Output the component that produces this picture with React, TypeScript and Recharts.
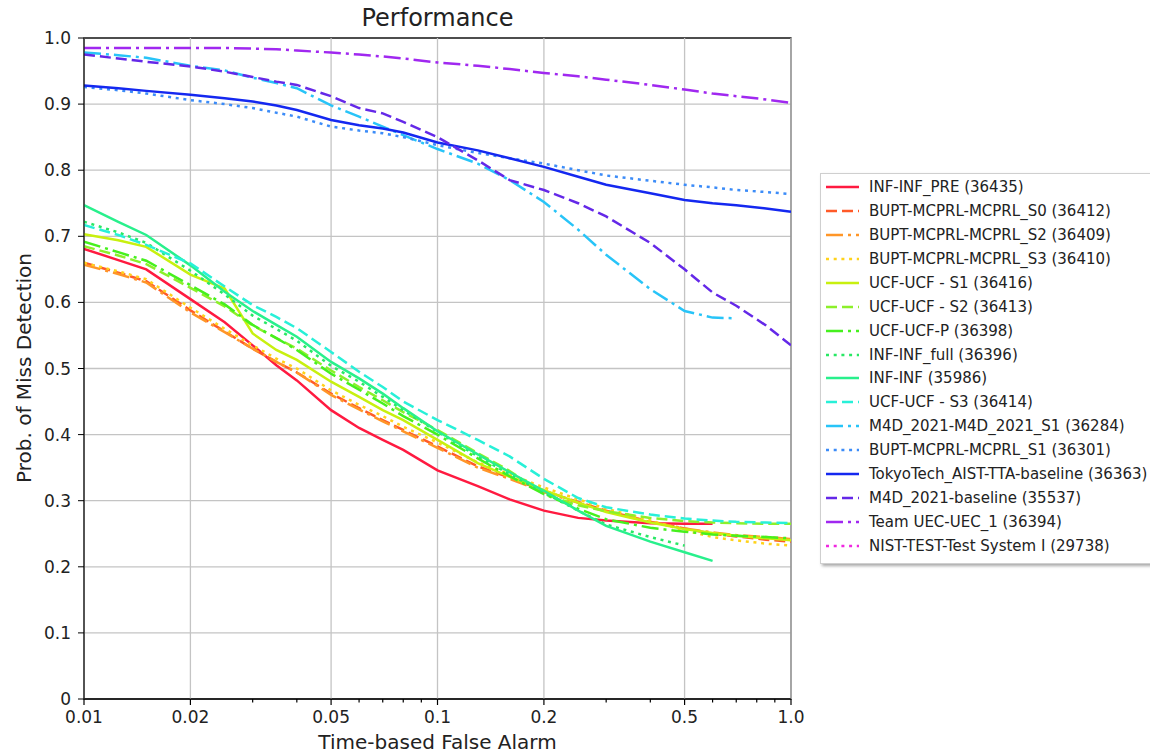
import { LineChart, Line, XAxis, YAxis, CartesianGrid, ReferenceArea, ReferenceLine } from "recharts";

const FONT = "'DejaVu Sans', Verdana, sans-serif";

// false alarm rate grid (x) shared by all curves
const FA = [0.01, 0.0125, 0.015, 0.02, 0.025, 0.03, 0.035, 0.04, 0.05, 0.06, 0.07, 0.08, 0.1, 0.13, 0.16, 0.2, 0.25, 0.3, 0.4, 0.5, 0.6, 0.7, 0.85, 1.0];

const X_MAJOR = [0.01, 0.02, 0.05, 0.1, 0.2, 0.5, 1.0];
const X_MINOR = [0.03, 0.04, 0.06, 0.07, 0.08, 0.09, 0.3, 0.4, 0.6, 0.7, 0.8, 0.9];
const Y_TICKS = [0, 0.1, 0.2, 0.3, 0.4, 0.5, 0.6, 0.7, 0.8, 0.9, 1.0];

// miss detection per system, null = curve ended
const infPre = [0.681, 0.664, 0.65, 0.605, 0.57, 0.535, 0.505, 0.482, 0.437, 0.41, 0.392, 0.377, 0.346, 0.322, 0.302, 0.285, 0.274, 0.27, 0.266, 0.265, 0.265, null, null, null];
const buptS0 = [0.66, 0.645, 0.632, 0.588, 0.556, 0.53, 0.51, 0.494, 0.462, 0.44, 0.422, 0.407, 0.382, 0.352, 0.335, 0.315, 0.298, 0.285, 0.268, 0.258, 0.25, 0.246, 0.241, 0.238];
const buptS2 = [0.657, 0.643, 0.63, 0.585, 0.555, 0.53, 0.51, 0.494, 0.46, 0.438, 0.42, 0.405, 0.38, 0.35, 0.333, 0.313, 0.297, 0.284, 0.268, 0.258, 0.252, 0.248, 0.245, 0.242];
const buptS3 = [0.66, 0.647, 0.635, 0.592, 0.56, 0.535, 0.515, 0.5, 0.467, 0.445, 0.428, 0.412, 0.388, 0.358, 0.34, 0.32, 0.302, 0.288, 0.27, 0.255, 0.245, 0.24, 0.235, 0.232];
const ucfS1 = [0.703, 0.694, 0.684, 0.642, 0.621, 0.553, 0.528, 0.513, 0.48, 0.457, 0.437, 0.422, 0.392, 0.357, 0.336, 0.316, 0.297, 0.283, 0.267, 0.257, 0.251, 0.247, 0.243, 0.24];
const ucfS2 = [0.685, 0.671, 0.658, 0.622, 0.594, 0.565, 0.546, 0.53, 0.497, 0.472, 0.452, 0.434, 0.407, 0.372, 0.345, 0.31, 0.293, 0.284, 0.274, 0.269, 0.267, 0.266, 0.265, 0.265];
const ucfP = [0.692, 0.676, 0.663, 0.626, 0.597, 0.566, 0.546, 0.528, 0.492, 0.468, 0.447, 0.428, 0.4, 0.364, 0.337, 0.31, 0.288, 0.272, 0.259, 0.253, 0.249, 0.247, 0.245, 0.243];
const infFull = [0.722, 0.706, 0.69, 0.648, 0.612, 0.58, 0.56, 0.542, 0.504, 0.48, 0.457, 0.437, 0.404, 0.367, 0.34, 0.312, 0.285, 0.264, 0.245, 0.232, null, null, null, null];
const infInf = [0.747, 0.722, 0.702, 0.656, 0.616, 0.587, 0.566, 0.548, 0.51, 0.485, 0.462, 0.44, 0.405, 0.37, 0.343, 0.315, 0.285, 0.262, 0.238, 0.222, 0.209, null, null, null];
const ucfS3 = [0.717, 0.702, 0.687, 0.659, 0.624, 0.596, 0.578, 0.561, 0.525, 0.495, 0.472, 0.45, 0.422, 0.392, 0.367, 0.333, 0.304, 0.29, 0.279, 0.273, 0.27, 0.268, 0.267, 0.266];
const m4dS1 = [0.978, 0.974, 0.97, 0.958, 0.951, 0.94, 0.932, 0.924, 0.898, 0.881, 0.866, 0.853, 0.832, 0.81, 0.785, 0.752, 0.71, 0.672, 0.62, 0.587, 0.577, 0.576, null, null];
const buptS1 = [0.926, 0.921, 0.916, 0.906, 0.9, 0.894, 0.887, 0.881, 0.866, 0.86, 0.856, 0.85, 0.838, 0.826, 0.818, 0.81, 0.8, 0.792, 0.784, 0.778, 0.774, 0.77, 0.767, 0.764];
const tokyo = [0.928, 0.924, 0.92, 0.914, 0.909, 0.904, 0.898, 0.891, 0.876, 0.868, 0.863, 0.857, 0.842, 0.83, 0.818, 0.805, 0.79, 0.778, 0.765, 0.755, 0.75, 0.747, 0.742, 0.737];
const m4dBase = [0.975, 0.969, 0.964, 0.957, 0.949, 0.941, 0.934, 0.929, 0.912, 0.894, 0.886, 0.873, 0.85, 0.815, 0.785, 0.77, 0.75, 0.73, 0.69, 0.65, 0.615, 0.595, 0.565, 0.535];
const uec = [0.985, 0.985, 0.985, 0.985, 0.985, 0.984, 0.983, 0.981, 0.978, 0.975, 0.972, 0.969, 0.963, 0.958, 0.953, 0.947, 0.942, 0.937, 0.929, 0.922, 0.916, 0.912, 0.907, 0.902];
const nist = FA.map(() => null); // no points inside the plotted range

const NAMES = [
  "INF-INF_PRE (36435)",
  "BUPT-MCPRL-MCPRL_S0 (36412)",
  "BUPT-MCPRL-MCPRL_S2 (36409)",
  "BUPT-MCPRL-MCPRL_S3 (36410)",
  "UCF-UCF - S1 (36416)",
  "UCF-UCF - S2 (36413)",
  "UCF-UCF-P (36398)",
  "INF-INF_full (36396)",
  "INF-INF (35986)",
  "UCF-UCF - S3 (36414)",
  "M4D_2021-M4D_2021_S1 (36284)",
  "BUPT-MCPRL-MCPRL_S1 (36301)",
  "TokyoTech_AIST-TTA-baseline (36363)",
  "M4D_2021-baseline (35537)",
  "Team UEC-UEC_1 (36394)",
  "NIST-TEST-Test System I (29738)",
];
const VALUES = [infPre, buptS0, buptS2, buptS3, ucfS1, ucfS2, ucfP, infFull, infInf, ucfS3, m4dS1, buptS1, tokyo, m4dBase, uec, nist];
const COLORS = ["#ff1a40", "#ff5a28", "#ff9628", "#ffd21a", "#c8f00f", "#8cf02a", "#46f01e", "#28e864", "#28f08c", "#28f0d8", "#28c4f8", "#3c8cf8", "#1428f0", "#6428e8", "#a028f0", "#f028e0"];
const STYLES = ["solid", "dashed", "dashdot", "dotted", "solid", "dashed", "dashdot", "dotted", "solid", "dashed", "dashdot", "dotted", "solid", "dashed", "dashdot", "dotted"];

const DASH: Record<string, string | undefined> = {
  solid: undefined,
  dashed: "11 5",
  dashdot: "17 5 3 5",
  dotted: "3 4.7",
};

const rows = FA.map((fa, i) => {
  const r: Record<string, number | null> = { fa };
  VALUES.forEach((vals, k) => { r["s" + k] = vals[i]; });
  return r;
});

const TICK = 6;
const GAP = 6;

const XTick = (props: any) => {
  const { x, y, payload } = props;
  const major = X_MAJOR.includes(payload.value);
  const y0 = y - TICK - GAP;
  return (
    <g>
      <line x1={x} x2={x} y1={y0} y2={y0 + (major ? TICK : 3.5)} stroke="#000" strokeWidth={1.2} />
      {major && (
        <text x={x} y={y} dy="0.71em" textAnchor="middle" fontSize={17} fontFamily={FONT} fill="#222">
          {payload.value === 1 ? "1.0" : String(payload.value)}
        </text>
      )}
    </g>
  );
};

function LegendBox() {
  return (
    <div style={{
      position: "absolute", left: 820, top: 173, width: 345, height: 389,
      border: "1px solid #cfcfcf", background: "#fff", boxShadow: "2px 2px 3px rgba(0,0,0,0.35)",
      fontFamily: FONT, fontSize: 15, color: "#222",
    }}>
      {NAMES.map((n, i) => (
        <div key={n} style={{ position: "absolute", left: 4, top: 1 + i * 23.93, height: 24, display: "flex", alignItems: "center", whiteSpace: "nowrap" }}>
          <svg width={36} height={10} style={{ marginRight: 8 }}>
            <line x1={1} x2={34} y1={5} y2={5} stroke={COLORS[i]} strokeWidth={2.6} strokeDasharray={DASH[STYLES[i]]} />
          </svg>
          <span>{n}</span>
        </div>
      ))}
    </div>
  );
}

export default function App() {
  return (
    <div style={{ position: "absolute", left: 0, top: 0, width: 1150, height: 754, background: "#fff", overflow: "hidden" }}>
      <LineChart width={1150} height={754} data={rows} margin={{ top: 38, right: 359, bottom: 0, left: 0 }}>
        <CartesianGrid stroke="#c4c4c4" strokeWidth={1.3} vertical={false} />
        {X_MAJOR.map((v) => (
          <ReferenceLine key={v} x={v} stroke="#c4c4c4" strokeWidth={1.3} />
        ))}
        <XAxis
          dataKey="fa"
          type="number"
          scale="log"
          domain={[0.01, 1]}
          allowDataOverflow
          ticks={[...X_MAJOR, ...X_MINOR]}
          interval={0}
          height={55}
          tickSize={TICK}
          tickMargin={GAP}
          tickLine={false}
          tick={<XTick />}
          stroke="#000"
        />
        <YAxis
          type="number"
          domain={[0, 1]}
          ticks={Y_TICKS}
          interval={0}
          width={84}
          tickSize={6}
          tickMargin={7}
          stroke="#000"
          tickFormatter={(v: number) => (v === 0 ? "0" : v.toFixed(1))}
          tick={{ fontSize: 17, fontFamily: FONT, fill: "#222" }}
        />
        {NAMES.map((n, i) => (
          <Line
            key={n}
            dataKey={"s" + i}
            name={n}
            stroke={COLORS[i]}
            strokeWidth={2.5}
            strokeDasharray={DASH[STYLES[i]]}
            dot={false}
            activeDot={false}
            connectNulls={false}
            isAnimationActive={false}
          />
        ))}
        <ReferenceArea x1={0.01} x2={1} y1={0} y2={1} fill="none" stroke="#222" strokeWidth={1.3} />
      </LineChart>
      <svg width={1150} height={754} style={{ position: "absolute", left: 0, top: 0, pointerEvents: "none" }}>
        <text x={437.5} y={26} textAnchor="middle" fontSize={24} fontFamily={FONT} fill="#222">Performance</text>
        <text x={437.5} y={749} textAnchor="middle" fontSize={20} fontFamily={FONT} fill="#222">Time-based False Alarm</text>
        <text x={31} y={368} textAnchor="middle" fontSize={20} fontFamily={FONT} fill="#222" transform="rotate(-90 31 368)">Prob. of Miss Detection</text>
      </svg>
      <LegendBox />
    </div>
  );
}
